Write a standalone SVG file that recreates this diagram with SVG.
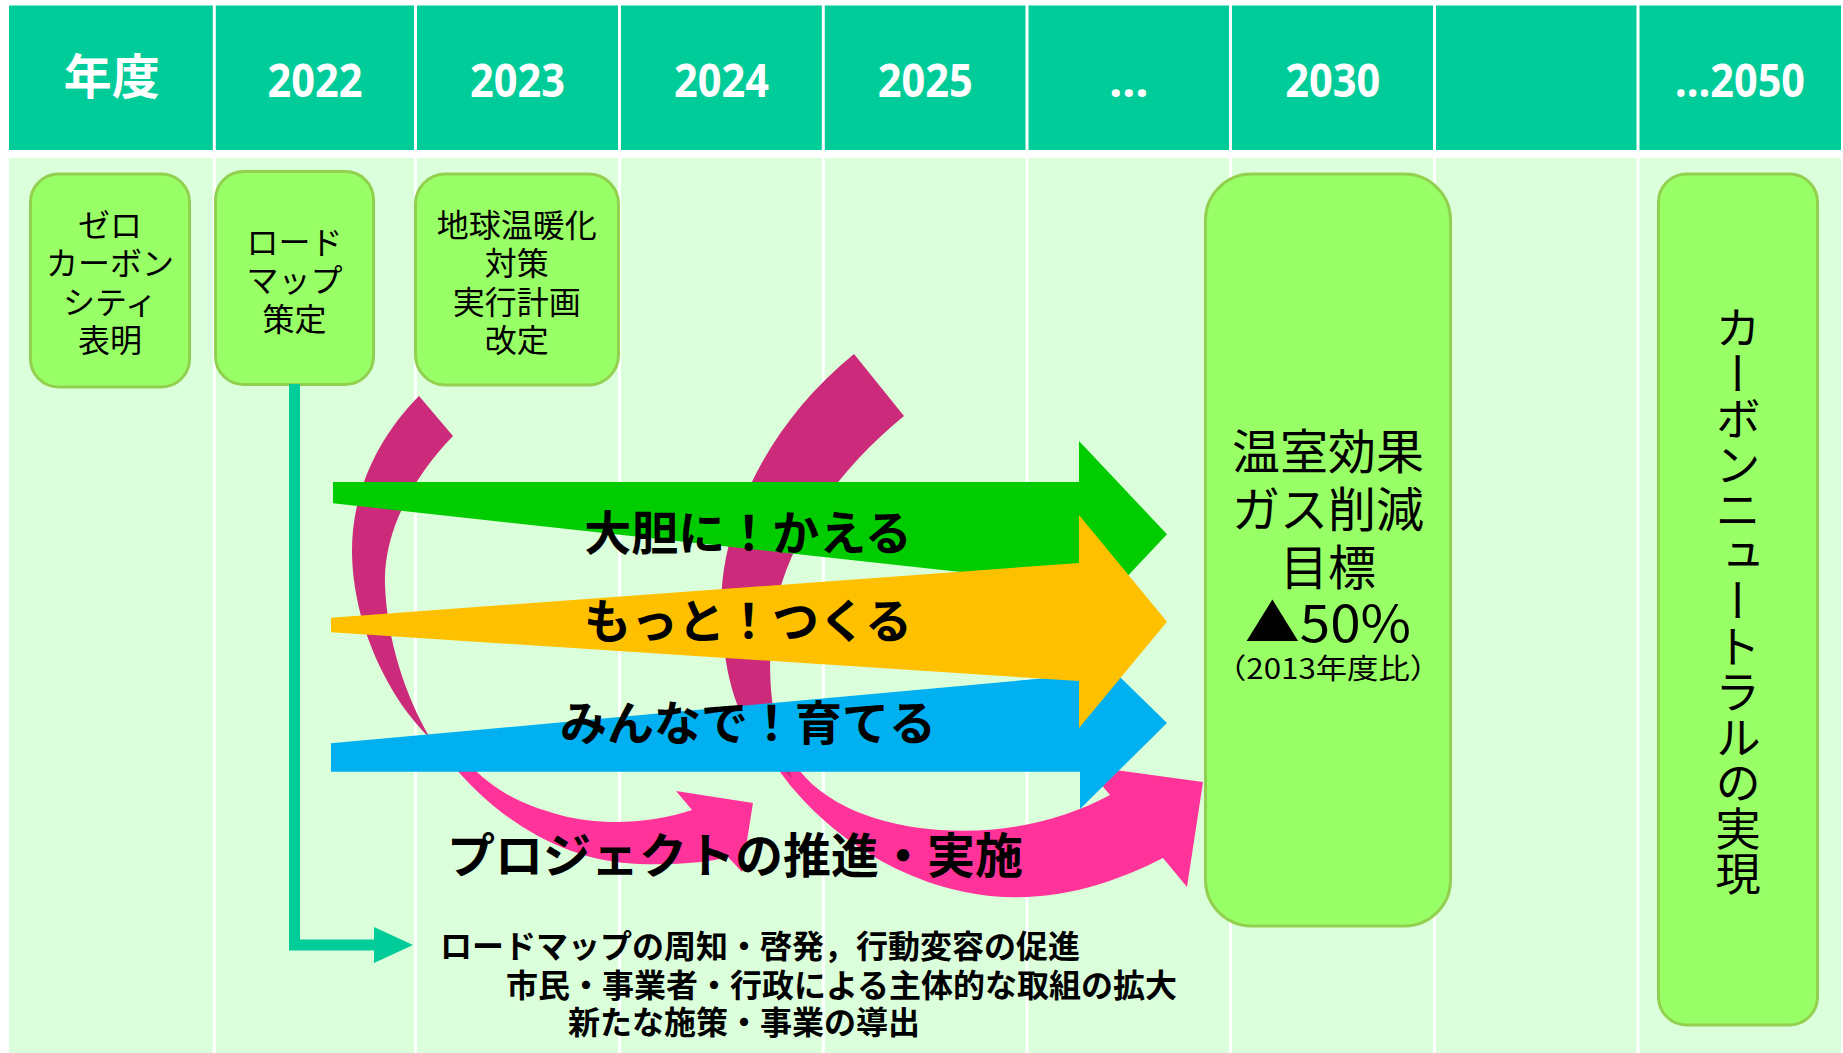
<svg xmlns="http://www.w3.org/2000/svg" width="1843" height="1053" viewBox="0 0 1843 1053">
<style>
.hdr{fill:#00CC99}
.bodybg{fill:#DBFFDB}
.div{stroke:#FFFFFF;stroke-width:3}
.hd{font-family:"Noto Sans","Noto Sans CJK JP",sans-serif;font-weight:700;fill:#FFFFFF;text-anchor:middle;font-size:46px}
.node rect{fill:#99FF66;stroke:#92D050;stroke-width:3}
.nt{font-family:"Noto Sans CJK JP",sans-serif;font-size:32px;fill:#000000;text-anchor:middle}
.bt{font-family:"Noto Sans CJK JP",sans-serif;font-weight:700;fill:#000000}
.dark{fill:#CC2A7A}
.pink{fill:#FF3399}
</style>
<rect x="0" y="0" width="1843" height="1053" fill="#FFFFFF"/>
<g id="grid">
<rect class="hdr" x="9" y="5.5" width="1832" height="144.5"/>
<rect class="bodybg" x="9" y="158" width="1832" height="895"/>
<g class="div">
<line x1="214.3" y1="0" x2="214.3" y2="1053"/>
<line x1="415.5" y1="0" x2="415.5" y2="1053"/>
<line x1="619.5" y1="0" x2="619.5" y2="1053"/>
<line x1="823.3" y1="0" x2="823.3" y2="1053"/>
<line x1="1027" y1="0" x2="1027" y2="1053"/>
<line x1="1230.5" y1="0" x2="1230.5" y2="1053"/>
<line x1="1434.5" y1="0" x2="1434.5" y2="1053"/>
<line x1="1638" y1="0" x2="1638" y2="1053"/>
</g>
<text class="hd" x="111.7" y="94" style="font-family:'Noto Sans CJK JP',sans-serif;font-size:48px">年度</text>
<text class="hd" x="314.9" y="97" textLength="95" lengthAdjust="spacingAndGlyphs">2022</text>
<text class="hd" x="517.5" y="97" textLength="95" lengthAdjust="spacingAndGlyphs">2023</text>
<text class="hd" x="721.4" y="97" textLength="95" lengthAdjust="spacingAndGlyphs">2024</text>
<text class="hd" x="925.2" y="97" textLength="95" lengthAdjust="spacingAndGlyphs">2025</text>
<text class="hd" x="1128.8" y="97">…</text>
<text class="hd" x="1332.8" y="97" textLength="95" lengthAdjust="spacingAndGlyphs">2030</text>
<text class="hd" x="1740" y="97" textLength="130" lengthAdjust="spacingAndGlyphs">…2050</text>
</g>

<g id="node-zerocarbon" class="node">
<rect x="30.5" y="174" width="159" height="213" rx="28"/>
<text class="nt" x="110" y="237">ゼロ</text>
<text class="nt" x="110" y="275">カーボン</text>
<text class="nt" x="110" y="313.5">シティ</text>
<text class="nt" x="110" y="352">表明</text>
</g>
<g id="node-roadmap" class="node">
<rect x="215.5" y="171.5" width="158" height="213" rx="28"/>
<text class="nt" x="294.5" y="253.5">ロード</text>
<text class="nt" x="294.5" y="292">マップ</text>
<text class="nt" x="294.5" y="331">策定</text>
</g>
<g id="node-plan" class="node">
<rect x="415.5" y="174" width="203" height="211" rx="30"/>
<text class="nt" x="516.7" y="237">地球温暖化</text>
<text class="nt" x="516.7" y="275">対策</text>
<text class="nt" x="516.7" y="313.5">実行計画</text>
<text class="nt" x="516.7" y="352">改定</text>
</g>
<g id="node-2030" class="node">
<rect x="1205.5" y="174" width="245" height="752" rx="46"/>
<text class="nt" x="1328" y="469" style="font-size:48px">温室効果</text>
<text class="nt" x="1328" y="527" style="font-size:48px">ガス削減</text>
<text class="nt" x="1328" y="585" style="font-size:48px">目標</text>
<text class="nt" x="1328" y="642" style="font-size:51px" textLength="166" lengthAdjust="spacingAndGlyphs">▲50%</text>
<text class="nt" x="1328" y="679" style="font-size:28px" textLength="226" lengthAdjust="spacingAndGlyphs">（2013年度比）</text>
</g>
<g id="node-2050" class="node">
<rect x="1658.5" y="174" width="159" height="851" rx="28"/>
<text class="nt" x="1738" y="601" style="font-size:45.5px;writing-mode:vertical-rl">カーボンニュートラルの実現</text>
</g>

<g id="connectors">
<g id="cycle-arrows">
<path class="pink" d="M 442,752 C 490,815 560,862 640,864 C 680,865 710,862 728,857 L 742,872 L 753,803 L 676,791 L 692,810 C 650,824 600,826 560,815 C 520,804 490,790 458,752 Z"/>
<path class="dark" d="M 419,396 L 453,436 C 415,475 383,530 385,585 C 387,640 405,695 430,738 C 390,700 352,625 352,550 C 352,490 380,435 419,396 Z"/>
<path class="pink" d="M 772,760 C 810,820 890,885 990,896 C 1060,903 1120,880 1163,858 L 1187,887 L 1203,782 L 1086,766 L 1110,795 C 1060,822 1000,834 940,830 C 880,826 820,805 792,760 Z"/>
<path class="dark" d="M 854,354 L 904,416 C 850,460 790,530 775,610 C 765,670 770,720 792,778 C 750,745 725,700 722,620 C 715,540 760,430 854,354 Z"/>
</g>
<g id="policy-arrows">
<polygon fill="#00CC00" points="333,482 1079,482 1079,441 1167,534.3 1079,627.6 1079,585 333,503.3"/>
<polygon fill="#00B0F0" points="331,743.3 1080,675 1080,638 1167,723 1080,809 1080,771.7 331,771.7"/>
<polygon fill="#FFC000" points="331,617.7 1079,563 1079,515 1167,621.7 1079,728 1079,681 331,632.3"/>
</g>
<g id="roadmap-link">
<polyline points="294.5,384 294.5,945 378,945" fill="none" stroke="#00CC99" stroke-width="11"/>
<polygon fill="#00CC99" points="374,927 413,945 374,963"/>
</g>
</g>

<g id="labels">
<text class="bt" x="748" y="550" text-anchor="middle" font-size="47">大胆に！かえる</text>
<text class="bt" x="748" y="638" text-anchor="middle" font-size="47">もっと！つくる</text>
<text class="bt" x="748" y="740" text-anchor="middle" font-size="47">みんなで！育てる</text>
<text class="bt" x="735" y="873" text-anchor="middle" font-size="48">プロジェクトの推進・実施</text>
<text class="bt" x="440" y="958" font-size="32">ロードマップの周知・啓発，行動変容の促進</text>
<text class="bt" x="506" y="997" font-size="32">市民・事業者・行政による主体的な取組の拡大</text>
<text class="bt" x="568" y="1034" font-size="32">新たな施策・事業の導出</text>
</g>
</svg>
